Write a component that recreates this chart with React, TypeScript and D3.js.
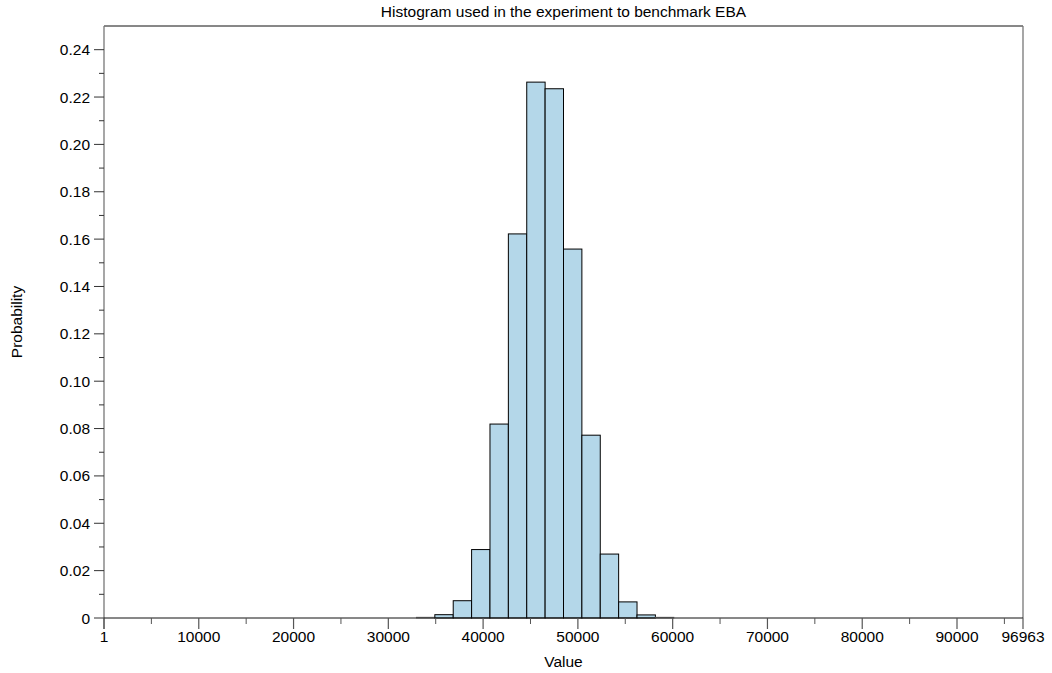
import React from "react"
import * as d3 from "d3"

// histogram setup: 50 equal bins spanning the value range
const valueMin = 1
const valueMax = 96963
const binCount = 50
const firstBin = 17

// probability of each non-empty bin, starting at bin index firstBin
const probabilities = [
	0.0003, 0.0014, 0.0073, 0.0289, 0.0819, 0.1622, 0.2263, 0.2235, 0.1558,
	0.0772, 0.0270, 0.0068, 0.0013, 0.0003,
]

const xMajorTicks = [1, 10000, 20000, 30000, 40000, 50000, 60000, 70000, 80000, 90000, 96963]
const xMinorTicks = [5000, 15000, 25000, 35000, 45000, 55000, 65000, 75000, 85000, 95000]
const yMajorTicks = [0, 0.02, 0.04, 0.06, 0.08, 0.1, 0.12, 0.14, 0.16, 0.18, 0.2, 0.22, 0.24]
const yMinorTicks = [0.01, 0.03, 0.05, 0.07, 0.09, 0.11, 0.13, 0.15, 0.17, 0.19, 0.21, 0.23]

const title = "Histogram used in the experiment to benchmark EBA"
const xTitle = "Value"
const yTitle = "Probability"

const width = 1052
const height = 673
const margin = { left: 104, right: 29, top: 26, bottom: 55 }
const font = "'Liberation Sans', Arial, Helvetica, sans-serif"
const fontSize = 15.5

const App = () => {
	const x = d3
		.scaleLinear()
		.domain([valueMin, valueMax])
		.range([margin.left, width - margin.right])
	const y = d3
		.scaleLinear()
		.domain([0, 0.25])
		.range([height - margin.bottom, margin.top])

	const binWidth = (valueMax - valueMin) / binCount
	const bins = probabilities.map((p, i) => {
		const x0 = valueMin + (firstBin + i) * binWidth
		return { x0, x1: x0 + binWidth, p }
	})

	const [x0, x1] = x.range()
	const [yb, yt] = y.range()

	return (
		<svg
			width={width}
			height={height}
			style={{ position: "absolute", left: 0, top: 0, background: "#fff" }}
			fontFamily={font}
		>
			{/* bars */}
			{bins.map((b, i) => (
				<rect
					key={i}
					x={x(b.x0)}
					y={y(b.p)}
					width={x(b.x1) - x(b.x0)}
					height={yb - y(b.p)}
					fill="#b4d7e9"
					stroke={yb - y(b.p) < 1 ? "#888" : "#000"}
					strokeWidth={1}
				/>
			))}

			{/* frame */}
			<line x1={x0} x2={x1} y1={yt} y2={yt} stroke="#111" />
			<line x1={x1} x2={x1} y1={yt} y2={yb} stroke="#777" strokeWidth={1.3} />
			<line x1={x0} x2={x0} y1={yt} y2={yb + 11} stroke="#777" strokeWidth={1.3} />
			<line x1={x0} x2={x1} y1={yb} y2={yb} stroke="#111" />

			{/* y axis */}
			{yMajorTicks.map(t => (
				<g key={t}>
					<line x1={x0 - 10} x2={x0} y1={y(t)} y2={y(t)} stroke="#333" />
					<text
						x={x0 - 14}
						y={y(t)}
						textAnchor="end"
						dominantBaseline="central"
						fontSize={fontSize}
						fill="#000"
					>
						{t === 0 ? "0" : t.toFixed(2)}
					</text>
				</g>
			))}
			{yMinorTicks.map(t => (
				<line key={t} x1={x0 - 5} x2={x0} y1={y(t)} y2={y(t)} stroke="#333" />
			))}

			{/* x axis */}
			{xMajorTicks.map(t => (
				<g key={t}>
					<line x1={x(t)} x2={x(t)} y1={yb} y2={yb + 11} stroke="#555" strokeWidth={1.2} />
					<text x={x(t)} y={yb + 24} textAnchor="middle" fontSize={fontSize} fill="#000">
						{t}
					</text>
				</g>
			))}
			{xMinorTicks.map(t => (
				<line key={t} x1={x(t)} x2={x(t)} y1={yb} y2={yb + 6} stroke="#555" />
			))}

			{/* titles */}
			<text x={(x0 + x1) / 2} y={17} textAnchor="middle" fontSize={fontSize} fill="#000">
				{title}
			</text>
			<text x={(x0 + x1) / 2} y={667} textAnchor="middle" fontSize={fontSize} fill="#000">
				{xTitle}
			</text>
			<text
				transform={`translate(22, ${(yt + yb) / 2}) rotate(-90)`}
				textAnchor="middle"
				fontSize={fontSize}
				fill="#000"
			>
				{yTitle}
			</text>
		</svg>
	)
}

export default App
